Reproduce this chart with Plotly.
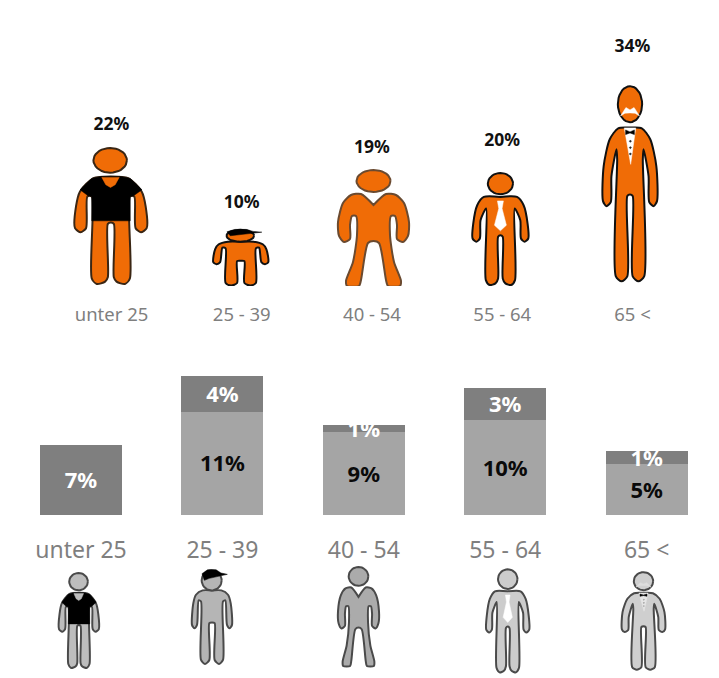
import math
import plotly.graph_objects as go

# Age groups and the shares printed on the chart
groups = ["unter 25", "25 - 39", "40 - 54", "55 - 64", "65 <"]
share_all = [22, 10, 19, 20, 34]
share_light = [0, 11.0, 8.8, 10.1, 5.4]
share_dark = [7.4, 3.8, 0.8, 3.4, 1.4]

W, H = 719, 678
ORANGE = "#f06c06"
DARK_BAR = "#7f7f7f"
LIGHT_BAR = "#a5a5a5"
GREY_TEXT = "#7f7f7f"
FONT = "Noto Sans"


def head(cx, cy, rx, ry):
    pts = []
    for k in range(37):
        a = math.radians(k * 10)
        pts.append((cx + rx * math.cos(a), cy + ry * math.sin(a)))
    return pts


def mirror(half, c):
    # half outline runs from top centre round the left side to the leg gap
    other = [(2 * c - x, y) for x, y in reversed(half[:-1])]
    pts = half + other
    return pts + [pts[0]]


# Person icons, traced in reference pixels; (role, smooth, points)
ICONS = [
    dict(box=(75, 385, 290, 792), parts=[
        ("body", True, mirror([(182, 470), (130, 475), (90, 515), (78, 560), (75, 625), (92, 637), (108, 625),
                               (112, 530), (125, 530), (125, 775), (140, 792), (165, 785), (173, 772),
                               (173, 612), (182, 608)], 182)),
        ("black", False, [(90, 510), (125, 476), (155, 470), (209, 470), (240, 476), (275, 510), (250, 528),
                          (240, 530), (240, 603), (125, 603), (125, 530), (114, 528), (90, 510)]),
        ("skin", False, [(155, 473), (207, 473), (195, 495), (181, 503), (167, 495), (155, 473)]),
        ("body", False, head(180, 422, 50, 37)),
    ]),
    dict(box=(458, 28, 578, 315), parts=[
        ("body", True, mirror([(518, 92), (490, 92), (470, 105), (462, 130), (458, 195), (465, 205), (473, 195),
                               (478, 122), (485, 125), (485, 300), (497, 312), (510, 300), (510, 190),
                               (518, 188)], 518)),
        ("body", False, head(517, 62, 30, 30)),
        ("black", False, [(488, 42), (505, 30), (530, 30), (545, 40), (564, 44), (530, 52), (510, 56), (495, 62),
                          (488, 42)]),
    ]),
    dict(box=(337, 170, 408, 286), parts=[
        ("body", True, mirror([(372.5, 205), (360, 194), (350, 195), (342, 203), (337, 222), (338, 236), (343, 242),
                               (349, 239), (349, 225), (351, 216), (355, 216), (356, 235), (352, 262), (345, 281),
                               (346, 286), (358, 286), (360, 280), (367, 243), (372.5, 241)], 372.5)),
        ("body", False, head(372.5, 181, 17, 11)),
    ]),
    dict(box=(275, 457, 447, 797), parts=[
        ("body", True, mirror([(360, 530), (310, 530), (290, 555), (278, 610), (276, 655), (287, 665), (298, 655),
                               (300, 600), (317, 565), (316, 780), (328, 795), (345, 790), (353, 775), (353, 650),
                               (360, 645)], 360)),
        ("white", False, [(351, 542), (369, 542), (365, 565), (378, 615), (360, 632), (342, 615), (355, 565),
                          (351, 542)]),
        ("body", False, head(360, 490, 38, 32)),
    ]),
    dict(box=(670, 200, 830, 787), parts=[
        ("body", True, mirror([(750, 325), (715, 327), (690, 360), (672, 440), (670, 545), (680, 560), (693, 548),
                               (695, 470), (710, 390), (712, 420), (708, 770), (725, 785), (742, 770), (742, 530),
                               (750, 525)], 750)),
        ("shirt", False, [(733, 326), (767, 326), (752, 435), (733, 326)]),
        ("black", False, [(737, 332), (750, 338), (763, 332), (763, 346), (750, 341), (737, 346), (737, 332)]),
        ("dots", False, head(751, 366, 3, 3)),
        ("dots", False, head(751, 385, 3, 3)),
        ("dots", False, head(751, 404, 3, 3)),
        ("body", False, head(750, 255, 36, 54)),
        ("stache", False, [(722, 290), (738, 265), (750, 272), (762, 265), (778, 290), (765, 282), (750, 281),
                           (735, 282), (722, 290)]),
    ]),
]


def icon_traces(icon, cx, half_w, base, height, colors, line, xaxis, yaxis):
    x0, y0, x1, y1 = icon["box"]
    mid = (x0 + x1) / 2
    out = []
    for role, smooth, pts in icon["parts"]:
        xs = [cx + (x - mid) / ((x1 - x0) / 2) * half_w for x, y in pts]
        ys = [base + (y1 - y) / (y1 - y0) * height for x, y in pts]
        edge = line if role == "body" else colors[role]
        out.append(go.Scatter(x=xs, y=ys, mode="lines", fill="toself", fillcolor=colors[role], cliponaxis=False,
                              line=dict(color=edge, width=2 if role == "body" else 0.5,
                                        shape="spline" if smooth else "linear", smoothing=0.7),
                              xaxis=xaxis, yaxis=yaxis, hoverinfo="skip", showlegend=False))
    return out


def dom(top, bottom):
    return [1 - bottom / H, 1 - top / H]


fig = go.Figure()

# Top panel: icon height follows the share
TOP_STEP = 130.25
TOP_FIRST = 111.5
TOP_SCALE = 5.9  # px per percent
TOP_ZERO = 286
stretch = [1.048, 0.966, 1.035, 0.958, 0.978]
top_half_w = [36, 27.5, 35.5, 28.5, 27]
top_dx = [-0.5, -1, 1.5, -1.5, -2.5]
top_base = [2, 0, 0, 0.3, 4]
label_gap = [22, 25, 21, 31, 38]
top_lines = ["#3a2614", "#111111", "#6a4a30", "#111111", "#111111"]

top_label_y = []
for i, icon in enumerate(ICONS):
    colors = dict(body=ORANGE, skin=ORANGE, black="#000000", white="#ffffff", shirt="#ffffff",
                  dots="#222222", stache="#ffffff")
    h = share_all[i] * stretch[i]
    base = top_base[i] / TOP_SCALE
    for tr in icon_traces(icon, i + top_dx[i] / TOP_STEP, top_half_w[i] / TOP_STEP, base, h,
                          colors, top_lines[i], "x", "y"):
        fig.add_trace(tr)
    top_label_y.append(base + h + label_gap[i] / TOP_SCALE)

fig.add_trace(go.Scatter(x=list(range(5)), y=top_label_y, mode="text", text=[f"{v}%" for v in share_all],
                         textposition="middle center", textfont=dict(family=FONT, size=17.5, color="#111111", weight=700),
                         xaxis="x", yaxis="y", hoverinfo="skip", showlegend=False))

# Bottom panel: stacked bars
BAR_STEP = 141.4
BAR_FIRST = 81
BAR_SCALE = 9.4
BAR_ZERO = 515
TEXT_SHIFT = 2.5 / BAR_SCALE  # labels sit a little under the segment middle
fig.add_trace(go.Bar(x=list(range(5)), y=share_light, width=0.58, marker=dict(color=LIGHT_BAR, line_width=0),
                     xaxis="x2", yaxis="y2", hoverinfo="skip", showlegend=False))
fig.add_trace(go.Bar(x=list(range(5)), y=share_dark, width=0.58, marker=dict(color=DARK_BAR, line_width=0),
                     xaxis="x2", yaxis="y2", hoverinfo="skip", showlegend=False))

light_idx = [i for i, v in enumerate(share_light) if v > 0]
fig.add_trace(go.Scatter(x=light_idx, y=[share_light[i] / 2 - TEXT_SHIFT for i in light_idx], mode="text",
                         text=[f"{round(share_light[i])}%" for i in light_idx], textposition="middle center",
                         textfont=dict(family=FONT, size=22, color="#0a0a0a", weight=700),
                         xaxis="x2", yaxis="y2", hoverinfo="skip", showlegend=False))
fig.add_trace(go.Scatter(x=list(range(5)), y=[share_light[i] + share_dark[i] / 2 - TEXT_SHIFT for i in range(5)],
                         mode="text", text=[f"{round(v)}%" for v in share_dark], textposition="middle center",
                         cliponaxis=False, textfont=dict(family=FONT, size=22, color="#ffffff", weight=700),
                         xaxis="x2", yaxis="y2", hoverinfo="skip", showlegend=False))

# Grey icons under the bars, on a pixel-sized axis
low_cx = [79, 212, 358.5, 508, 643.5]
low_half_w = [20, 20, 20.5, 22, 21.5]
low_base = [10, 13, 12, 5, 8]
low_h = [95, 96, 99, 104, 98]
low_fill = ["#bdbdbd", "#b5b5b5", "#ababab", "#cccccc", "#cfcfcf"]
for i, icon in enumerate(ICONS):
    colors = dict(body=low_fill[i], skin=low_fill[i], black="#000000", white="#ffffff", shirt="#e6e6e6",
                  dots="#9a9a9a", stache="#dddddd")
    for tr in icon_traces(icon, low_cx[i], low_half_w[i], low_base[i], low_h[i], colors, "#4a4a4a", "x3", "y3"):
        fig.add_trace(tr)

hidden = dict(showgrid=False, zeroline=False, showline=False, fixedrange=True)
ticks = dict(tickmode="array", tickvals=list(range(5)), ticktext=groups, ticks="outside",
             tickcolor="rgba(0,0,0,0)", tickwidth=1)
fig.update_layout(
    width=W, height=H, margin=dict(l=0, r=0, t=0, b=0), paper_bgcolor="#ffffff", plot_bgcolor="rgba(0,0,0,0)",
    barmode="stack", showlegend=False, font=dict(family=FONT, color=GREY_TEXT),
    xaxis=dict(domain=[0, 1], range=[-TOP_FIRST / TOP_STEP, (W - TOP_FIRST) / TOP_STEP], anchor="y",
               tickfont=dict(size=18.5, color=GREY_TEXT), ticklen=12, **ticks, **hidden),
    yaxis=dict(domain=dom(10, TOP_ZERO), range=[0, (TOP_ZERO - 10) / TOP_SCALE], anchor="x", visible=False, **hidden),
    xaxis2=dict(domain=[0, 1], range=[-BAR_FIRST / BAR_STEP, (W - BAR_FIRST) / BAR_STEP], anchor="y2",
                tickfont=dict(size=23, color=GREY_TEXT), ticklen=14, **ticks, **hidden),
    yaxis2=dict(domain=dom(360, BAR_ZERO), range=[0, (BAR_ZERO - 360) / BAR_SCALE], anchor="x2", visible=False, **hidden),
    xaxis3=dict(domain=[0, 1], range=[0, W], anchor="y3", visible=False, **hidden),
    yaxis3=dict(domain=dom(560, H), range=[0, H - 560], anchor="x3", visible=False, **hidden),
)

# the page's default body margin would push the figure 8px in
fig.write_html("out.html", config={"displayModeBar": False}, post_script="document.body.style.margin = '0';")
